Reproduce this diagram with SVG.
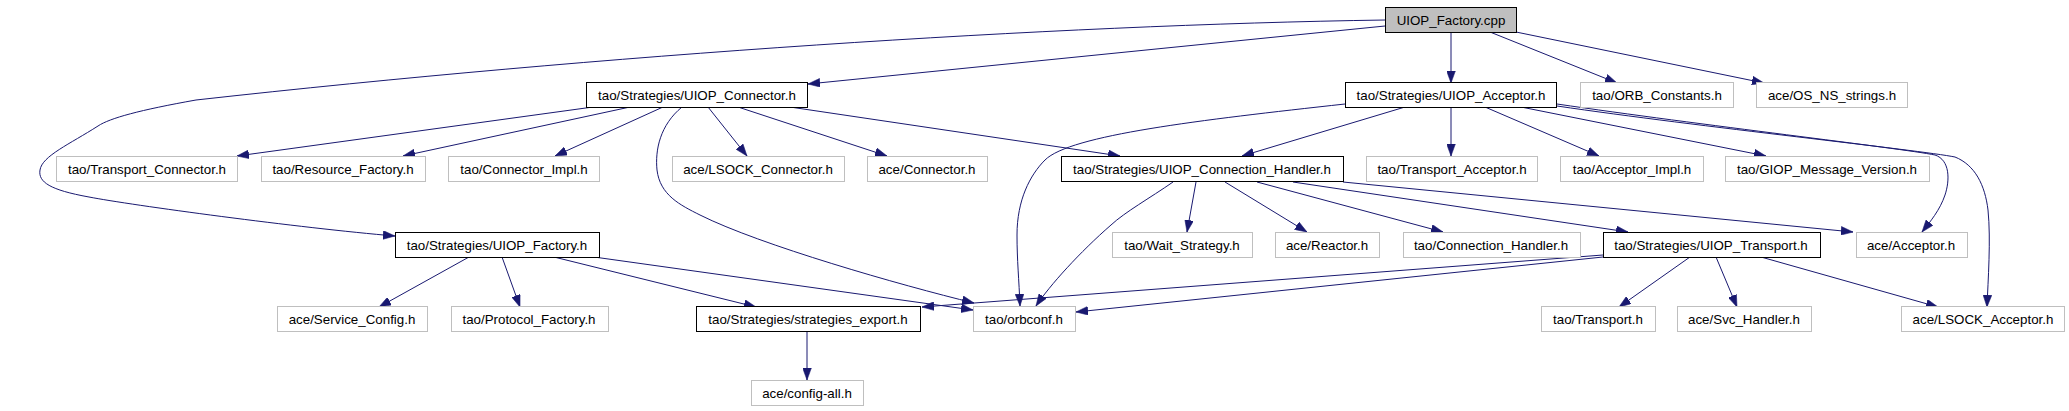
<svg xmlns="http://www.w3.org/2000/svg" width="2069" height="411" viewBox="0 0 2069 411">
<style>
.n rect{fill:#ffffff;stroke:#bfbfbf;stroke-width:1}
.n.d rect{stroke:#000000}
.n.r rect{fill:#bfbfbf;stroke:#000000}
.n text{font-family:"Liberation Sans",Arial,sans-serif;font-size:13.33px;fill:#000000;text-anchor:middle}
#edges path{fill:none;stroke:#191970;stroke-width:1;marker-end:url(#a)}
</style>
<defs>
<marker id="a" markerUnits="userSpaceOnUse" markerWidth="12" markerHeight="9" refX="11" refY="4" orient="auto" viewBox="0 0 11 8">
<path d="M0,0 L11,4 L0,8 z" fill="#191970" stroke="#191970" stroke-width="0.5"/>
</marker>
</defs>
<rect width="2069" height="411" fill="#ffffff"/>
<g id="edges">
<path d="M1385,20 C1050,25 600,55 196,100 C140,110 110,118 98,126 C70,144 42,156 40,170 C38,182 50,190 89,197 C130,205 300,228 395,236"/>
<path d="M1385,26 L808,84"/>
<path d="M1451,32 L1451,83"/>
<path d="M1490,32 L1617,83"/>
<path d="M1516,32 L1764,83"/>
<path d="M593,107 L237,156"/>
<path d="M630,107 L403,156"/>
<path d="M663,107 L555,156"/>
<path d="M682,107 C660,125 655,150 657,170 C660,195 680,205 700,215 C760,245 900,285 974,303"/>
<path d="M708,107 L747,156"/>
<path d="M738,107 L887,156"/>
<path d="M790,107 L1120,156"/>
<path d="M1345,104 C1200,120 1070,135 1045,160 C1030,175 1017,200 1017,235 C1017,260 1019,280 1020,306"/>
<path d="M1405,107 L1242,156"/>
<path d="M1451,107 L1451,156"/>
<path d="M1485,107 L1599,156"/>
<path d="M1521,107 L1766,156"/>
<path d="M1557,104 C1700,125 1900,148 1935,155 C1950,160 1950,180 1945,195 C1940,210 1930,222 1922,232"/>
<path d="M1557,106 C1700,127 1920,150 1955,157 C1975,165 1985,185 1988,210 C1991,240 1988,280 1987,307"/>
<path d="M1173,182 C1150,198 1125,212 1111,225 C1080,252 1050,285 1036,306"/>
<path d="M1196,182 L1187,232"/>
<path d="M1225,182 L1307,232"/>
<path d="M1257,182 L1443,232"/>
<path d="M1293,182 L1628,232"/>
<path d="M1343,182 L1853,232"/>
<path d="M469,257 L379,307"/>
<path d="M502,257 L520,307"/>
<path d="M554,257 L756,307"/>
<path d="M594,257 L973,310"/>
<path d="M1603,255 L922,307"/>
<path d="M1603,257 L1076,312"/>
<path d="M1690,257 L1619,307"/>
<path d="M1716,257 L1737,307"/>
<path d="M1761,257 L1938,307"/>
<path d="M807,331 L807,380"/>
</g>
<g id="n_cpp" class="n r"><rect x="1385.5" y="7.5" width="131" height="25"/><text x="1451" y="25">UIOP_Factory.cpp</text></g>
<g id="n_uiop_connector" class="n d"><rect x="586.5" y="82.5" width="221" height="25"/><text x="697" y="100">tao/Strategies/UIOP_Connector.h</text></g>
<g id="n_uiop_acceptor" class="n d"><rect x="1345.5" y="82.5" width="211" height="25"/><text x="1451" y="100">tao/Strategies/UIOP_Acceptor.h</text></g>
<g id="n_orb_constants" class="n"><rect x="1580.5" y="82.5" width="153" height="25"/><text x="1657" y="100">tao/ORB_Constants.h</text></g>
<g id="n_os_ns_strings" class="n"><rect x="1756.5" y="82.5" width="151" height="25"/><text x="1832" y="100">ace/OS_NS_strings.h</text></g>
<g id="n_transport_connector" class="n"><rect x="56.5" y="156.5" width="181" height="25"/><text x="147" y="174">tao/Transport_Connector.h</text></g>
<g id="n_resource_factory" class="n"><rect x="261.5" y="156.5" width="164" height="25"/><text x="343" y="174">tao/Resource_Factory.h</text></g>
<g id="n_connector_impl" class="n"><rect x="448.5" y="156.5" width="151" height="25"/><text x="524" y="174">tao/Connector_Impl.h</text></g>
<g id="n_lsock_connector" class="n"><rect x="672.5" y="156.5" width="172" height="25"/><text x="758" y="174">ace/LSOCK_Connector.h</text></g>
<g id="n_ace_connector" class="n"><rect x="867.5" y="156.5" width="120" height="25"/><text x="927" y="174">ace/Connector.h</text></g>
<g id="n_uiop_connection_handler" class="n d"><rect x="1061.5" y="156.5" width="282" height="25"/><text x="1202" y="174">tao/Strategies/UIOP_Connection_Handler.h</text></g>
<g id="n_transport_acceptor" class="n"><rect x="1366.5" y="156.5" width="171" height="25"/><text x="1452" y="174">tao/Transport_Acceptor.h</text></g>
<g id="n_acceptor_impl" class="n"><rect x="1560.5" y="156.5" width="143" height="25"/><text x="1632" y="174">tao/Acceptor_Impl.h</text></g>
<g id="n_giop_message_version" class="n"><rect x="1725.5" y="156.5" width="204" height="25"/><text x="1827" y="174">tao/GIOP_Message_Version.h</text></g>
<g id="n_uiop_factory_h" class="n d"><rect x="395.5" y="232.5" width="204" height="25"/><text x="497" y="250">tao/Strategies/UIOP_Factory.h</text></g>
<g id="n_wait_strategy" class="n"><rect x="1112.5" y="232.5" width="140" height="25"/><text x="1182" y="250">tao/Wait_Strategy.h</text></g>
<g id="n_reactor" class="n"><rect x="1275.5" y="232.5" width="104" height="25"/><text x="1327" y="250">ace/Reactor.h</text></g>
<g id="n_connection_handler" class="n"><rect x="1403.5" y="232.5" width="177" height="25"/><text x="1491" y="250">tao/Connection_Handler.h</text></g>
<g id="n_uiop_transport" class="n d"><rect x="1603.5" y="232.5" width="217" height="25"/><text x="1711" y="250">tao/Strategies/UIOP_Transport.h</text></g>
<g id="n_ace_acceptor" class="n"><rect x="1856.5" y="232.5" width="111" height="25"/><text x="1911" y="250">ace/Acceptor.h</text></g>
<g id="n_service_config" class="n"><rect x="277.5" y="306.5" width="150" height="25"/><text x="352" y="324">ace/Service_Config.h</text></g>
<g id="n_protocol_factory" class="n"><rect x="451.5" y="306.5" width="157" height="25"/><text x="529" y="324">tao/Protocol_Factory.h</text></g>
<g id="n_strategies_export" class="n d"><rect x="696.5" y="306.5" width="224" height="25"/><text x="808" y="324">tao/Strategies/strategies_export.h</text></g>
<g id="n_orbconf" class="n"><rect x="973.5" y="306.5" width="102" height="25"/><text x="1024" y="324">tao/orbconf.h</text></g>
<g id="n_transport" class="n"><rect x="1541.5" y="306.5" width="114" height="25"/><text x="1598" y="324">tao/Transport.h</text></g>
<g id="n_svc_handler" class="n"><rect x="1677.5" y="306.5" width="134" height="25"/><text x="1744" y="324">ace/Svc_Handler.h</text></g>
<g id="n_lsock_acceptor" class="n"><rect x="1901.5" y="306.5" width="163" height="25"/><text x="1983" y="324">ace/LSOCK_Acceptor.h</text></g>
<g id="n_config_all" class="n"><rect x="751.5" y="380.5" width="112" height="25"/><text x="807" y="398">ace/config-all.h</text></g>
</svg>
